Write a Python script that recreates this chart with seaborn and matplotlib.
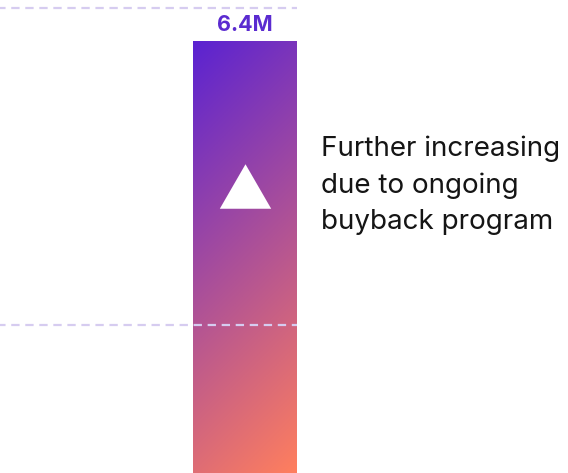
import matplotlib
matplotlib.use("Agg")
import matplotlib.pyplot as plt
import matplotlib.colors as mcolors
import numpy as np
import pandas as pd
import seaborn as sns

# ---- data ----
categories = ["Shares repurchased"]
values = [6.4]            # millions
value_labels = ["6.4M"]
grid_values = [2.19, 6.88]
y_max = 7.0
note_text = "Further increasing\ndue to ongoing\nbuyback program"

# ---- style ----
sns.set_theme(style="white")
plt.rcParams["font.family"] = ["Inter", "DejaVu Sans"]
plt.rcParams["lines.scale_dashes"] = False

grad_start = "#5A22D2"
grad_end = "#FF7F5E"
label_color = "#5B2BD0"
grid_color = "#D6CCF0"
text_color = "#151515"

W, H = 568, 473
fig = plt.figure(figsize=(W / 100, H / 100), dpi=100)
ax = fig.add_axes([0, 0, 1, 1])

df = pd.DataFrame({"category": categories, "value": values})
sns.barplot(data=df, x="category", y="value", ax=ax, width=0.8,
            color=grad_start, edgecolor="none", linewidth=0, zorder=2)

# axis scaling: bar centre at x=245px, bar 104px wide
px_per_unit = 104 / 0.8
ax.set_xlim(-245 / px_per_unit, (W - 245) / px_per_unit)
ax.set_ylim(0, y_max)
ax.axis("off")

bar = ax.patches[0]
bx0, by0 = bar.get_x(), bar.get_y()
bw, bh = bar.get_width(), bar.get_height()

# gradient fill (45 degrees in pixel space, top-left -> bottom-right)
fig.canvas.draw()
p0 = ax.transData.transform((bx0, by0 + bh))
p1 = ax.transData.transform((bx0 + bw, by0))
wpx = abs(p1[0] - p0[0])
hpx = abs(p1[1] - p0[1])
nx, ny = 200, 600
u = np.linspace(0, 1, nx)[None, :] * wpx
v = np.linspace(0, 1, ny)[:, None] * hpx
t = (u + v) / (wpx + hpx)
cmap = mcolors.LinearSegmentedColormap.from_list("g", [grad_start, grad_end])
img = ax.imshow(t, cmap=cmap, vmin=0, vmax=1, aspect="auto",
                extent=(bx0, bx0 + bw, by0, by0 + bh), origin="upper",
                zorder=3, interpolation="bilinear")
img.set_clip_path(bar)
ax.set_xlim(-245 / px_per_unit, (W - 245) / px_per_unit)
ax.set_ylim(0, y_max)

# dashed reference lines up to the bar's right edge
xl = ax.get_xlim()
xmax_frac = (bx0 + bw - xl[0]) / (xl[1] - xl[0])
for g in grid_values:
    ax.axhline(g, xmin=0, xmax=xmax_frac, color=grid_color, lw=1.6,
               ls=(2, (6.0, 4.1)), zorder=4)

# value label
ax.text(bx0 + bw / 2, values[0] + 0.08, value_labels[0], ha="center",
        va="bottom", fontsize=15.5, fontweight="bold", color=label_color,
        zorder=5)

# white triangle marker inside bar
tri = [(-1, -0.866), (1, -0.866), (0, 0.866)]
ax.plot([bx0 + bw / 2], [values[0] * 0.664], marker=tri, markersize=37,
        color="white", markeredgewidth=0, linestyle="none", zorder=6)

# annotation text
ax.text(321 / W, 1 - 135 / H, note_text, transform=ax.transAxes,
        ha="left", va="top", fontsize=20, color=text_color,
        linespacing=1.52, zorder=5)

fig.savefig("out.png", dpi=100)
